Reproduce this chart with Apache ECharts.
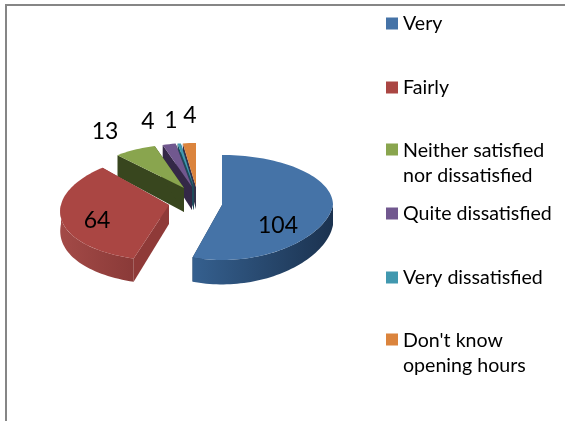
<!DOCTYPE html>
<html><head><meta charset="utf-8">
<style>html,body{margin:0;padding:0;background:#fff}#c{width:565px;height:421px}</style>
<script src="https://cdn.jsdelivr.net/npm/echarts@6/dist/echarts.min.js"></script>
</head><body><div id="c"></div>
<script>
const categories = ['Very','Fairly','Neither satisfied\nnor dissatisfied','Quite dissatisfied','Very dissatisfied',"Don't know\nopening hours"];
const values = [104,64,13,4,1,4];
const colors = ['#4573A7','#AA4643','#89A54E','#71588F','#4198AF','#DB843D'];
const sideColors = [['#35608f','#1b324f'],['#8a3a38','#a34a47'],['#4c5f2a','#3d4d22'],['#3a2c4d','#2c2340'],['#1f4f60','#1f4f60'],['#3b3350','#3b3350']];
const cutColors = ['#1b324f','#8f3a38','#38461e','#342847','#1e4a5a','#33304a'];
const shapes = [
 {cx:222,cy:205,rx:111,back:50,front:55,d:20,wb:0,wf:-0.1},
 {cx:169,cy:205,rx:108,back:50,front:56,d:19,wb:0.1,wf:0.12},
 {cx:184,cy:188,rx:100,back:44,front:50,d:24,wb:0,wf:0},
 {cx:192,cy:187,rx:100,back:44,front:50,d:23,wb:0,wf:0},
 {cx:194,cy:187,rx:100,back:44,front:50,d:23,wb:0,wf:0},
 {cx:196,cy:187,rx:100,back:44,front:50,d:22,wb:0,wf:0}
];
const labelPos = [[278,226],[97,221],[105,132],[148,122],[171,121],[190,116]];
const legendTops = [11,75,138,201,265,328];
const FONT = 'Lato, Carlito, "Open Sans", sans-serif';

const total = values.reduce((a,b)=>a+b,0);
let acc = 0;
const ranges = values.map(v=>{const s=acc/total*360; acc+=v; return [s,acc/total*360];});

function pt(sh,deg){
  const t=deg*Math.PI/180, c=Math.cos(t);
  const warp = c>0 ? 1-sh.wb*c : 1-sh.wf*c;
  return [sh.cx+sh.rx*Math.sin(t)*warp, sh.cy-(c>0?sh.back:sh.front)*c];
}
function lower(sh,p){ return [p[0], p[1]+sh.d+0.08*(p[1]-sh.cy)]; }
function arc(sh,a,b){
  const out=[], n=Math.max(2,Math.ceil(Math.abs(b-a)/2));
  for(let i=0;i<=n;i++) out.push(pt(sh,a+(b-a)*i/n));
  return out;
}
function hGrad(a,b){return {type:'linear',x:0,y:0,x2:1,y2:0,colorStops:[{offset:0,color:a},{offset:1,color:b}]};}
function renderSlice(i){
  const sh=shapes[i],[a,b]=ranges[i],apex=[sh.cx,sh.cy],kids=[];
  [a,b].forEach(ang=>{
    const p=pt(sh,ang);
    kids.push({type:'polygon',shape:{points:[apex,p,lower(sh,p),lower(sh,apex)]},style:{fill:cutColors[i]}});
  });
  const fa=Math.max(a,90), fb=Math.min(b,270);
  if(fb>fa){
    const top=arc(sh,fa,fb), bot=top.map(p=>lower(sh,p)).reverse();
    const grad = i===1 ? hGrad(sideColors[i][1],sideColors[i][0]) : hGrad(sideColors[i][0],sideColors[i][1]);
    kids.push({type:'polygon',shape:{points:top.concat(bot)},style:{fill:grad}});
  }
  kids.push({type:'polygon',shape:{points:[apex].concat(arc(sh,a,b))},style:{fill:colors[i]}});
  kids.push({type:'text',style:{x:labelPos[i][0],y:labelPos[i][1],text:String(values[i]),fill:'#000',font:'23px '+FONT,align:'center',verticalAlign:'middle'}});
  return {type:'group',children:kids};
}
// painter order: back slices first
const order=[5,4,3,2,1,0];
const series=order.map(i=>({
  type:'custom',name:categories[i],coordinateSystem:'none',
  itemStyle:{color:colors[i]},silent:true,z:2+(5-i),
  data:[{name:categories[i],value:[values[i]]}],
  renderItem:()=>renderSlice(i)
}));
const TWO='path://M0 0H12V12H0Z M0 39H12Z';
const legend=categories.map((n,i)=>({
  data:[n],left:386,top:legendTops[i],orient:'vertical',padding:0,selectedMode:false,
  itemWidth:12,itemHeight:n.includes('\n')?39:12,itemGap:0,
  icon:n.includes('\n')?TWO:'rect',
  textStyle:{fontFamily:FONT,fontSize:19.6,color:'#000',lineHeight:25},
  itemStyle:{borderWidth:0}
}));
const chart=echarts.init(document.getElementById('c'),null,{renderer:'canvas'});
chart.setOption({
  animation:false,backgroundColor:'#fff',
  legend,series,
  graphic:[{type:'polyline',z:1,shape:{points:[[565,5],[6,5],[6,421]]},style:{stroke:'#868686',lineWidth:2,fill:null}}]
});
</script></body></html>
